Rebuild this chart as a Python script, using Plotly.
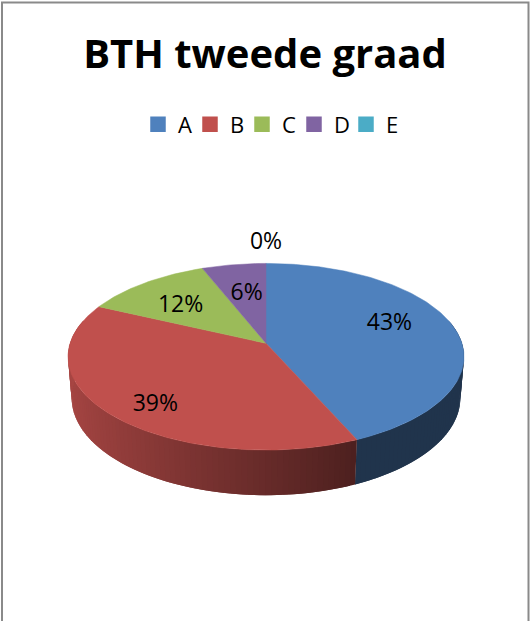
import numpy as np
import plotly.graph_objects as go

# ---- data ----
categories = ["A", "B", "C", "D", "E"]
values = [43.4, 38.6, 12.0, 6.0, 0.0]
colors = ["#4F81BD", "#C0504D", "#9BBB59", "#8064A2", "#4BACC6"]
title_text = "BTH tweede graad"

# ---- 3D pie projection settings (style) ----
W, H = 530, 621
CX, CY = 266.0, 343.3
F = 1203.0
D = 6.14
TILT = np.radians(27.8)
THICK = 0.239
FONT = "Open Sans"
# small pixel nudges for the data labels (Excel "best fit" placement)
label_nudge = [(-8, -6), (-5, 14), (2, 6), (4, 8), (0, 0)]


def project(r, theta_deg, z=0.0):
    th = np.radians(theta_deg)
    u = r * np.sin(th)
    w = r * np.cos(th)
    depth = D + w * np.cos(TILT) - z * np.sin(TILT)
    up = w * np.sin(TILT) + z * np.cos(TILT)
    return CX + F * u / depth, CY - F * up / depth


def shade(hexcol, f):
    h = hexcol.lstrip("#")
    r, g, b = (int(h[i:i + 2], 16) for i in (0, 2, 4))
    return "rgb(%d,%d,%d)" % (round(r * f), round(g * f), round(b * f))


total = float(sum(values))
spans = [v / total * 360.0 for v in values]
starts = np.concatenate([[0.0], np.cumsum(spans)[:-1]])

fig = go.Figure()

# ---- sides (overlapping strips for a smooth gradient) ----
for cat, s, sp, col in zip(categories, starts, spans, colors):
    if sp <= 0:
        continue
    a0, a1 = max(s, 75.0), min(s + sp, 285.0)
    if a1 <= a0:
        continue
    n = max(1, int(np.ceil((a1 - a0) / 1.5)))
    edges = np.linspace(a0, a1, n + 1)
    for t0, t1 in zip(edges[:-1], edges[1:]):
        t1e = min(a1, t1 + 1.5)
        ts = np.linspace(t0, t1e, 5)
        xt, yt = project(1.0, ts)
        xb, yb = project(1.0, ts[::-1], -THICK)
        umid = np.sin(np.radians((t0 + t1) / 2))
        f = max(0.40, 0.87 - 0.47 * (umid + 1) / 1.4)
        c = shade(col, f)
        fig.add_trace(go.Scatter(
            x=np.concatenate([xt, xb, xt[:1]]), y=np.concatenate([yt, yb, yt[:1]]),
            mode="lines", fill="toself", fillcolor=c,
            line=dict(color=c, width=0), hoverinfo="skip", showlegend=False))

# ---- top faces ----
for cat, s, sp, col in zip(categories, starts, spans, colors):
    if sp <= 0:
        continue
    ts = np.linspace(s, s + sp, max(2, int(np.ceil(sp)) + 1))
    xa, ya = project(1.0, ts)
    x = np.concatenate([[CX], xa, [CX]])
    y = np.concatenate([[CY], ya, [CY]])
    fig.add_trace(go.Scatter(
        x=x, y=y, mode="lines", fill="toself", fillcolor=col,
        line=dict(color=col, width=0.5), name=cat, hoverinfo="name", showlegend=False))

# ---- data labels ----
lx, ly, lt = [], [], []
for s, sp, v, (dx, dy) in zip(starts, spans, values, label_nudge):
    mid = s + sp / 2
    r = 0.7 if v > 0 else 1.3
    px, py = project(r, mid)
    lx.append(float(px) + dx)
    ly.append(float(py) + dy)
    lt.append("%d%%" % round(v / total * 100))
fig.add_trace(go.Scatter(
    x=lx, y=ly, text=lt, mode="text", textposition="middle center",
    textfont=dict(family=FONT, size=23, color="black"),
    hoverinfo="skip", showlegend=False))

# ---- legend entries ----
for cat, col in zip(categories, colors):
    fig.add_trace(go.Scatter(
        x=[None], y=[None], mode="markers", name=cat,
        marker=dict(symbol="square", size=14, color=col, line=dict(color=col, width=1.5)),
        showlegend=True))

fig.update_layout(
    width=W, height=H,
    margin=dict(l=0, r=0, t=0, b=0),
    paper_bgcolor="white", plot_bgcolor="white",
    xaxis=dict(range=[0, W], visible=False, fixedrange=True),
    yaxis=dict(range=[H, 0], visible=False, fixedrange=True),
    title=dict(text="<b>" + title_text + "</b>", x=0.5, xanchor="center",
               y=1 - 54 / H, yanchor="middle", yref="container",
               font=dict(family=FONT, size=40, color="black")),
    legend=dict(orientation="h", x=0.5 + 3 / W, xanchor="center", y=1 - 124.5 / H,
                yanchor="middle", font=dict(family=FONT, size=22, color="black"),
                entrywidth=7, entrywidthmode="pixels", itemclick=False,
                itemsizing="trace", bgcolor="rgba(0,0,0,0)"),
    shapes=[dict(type="rect", xref="paper", yref="paper",
                 x0=2 / W, x1=528.5 / W, y0=-0.1, y1=1 - 2.5 / H,
                 line=dict(color="#8a8a8a", width=2), fillcolor="rgba(0,0,0,0)",
                 layer="above")],
    showlegend=True,
)

fig.write_html(
    "out.html",
    config={"displayModeBar": False},
    post_script="document.body.style.margin='0px';document.body.style.overflow='hidden';",
)
